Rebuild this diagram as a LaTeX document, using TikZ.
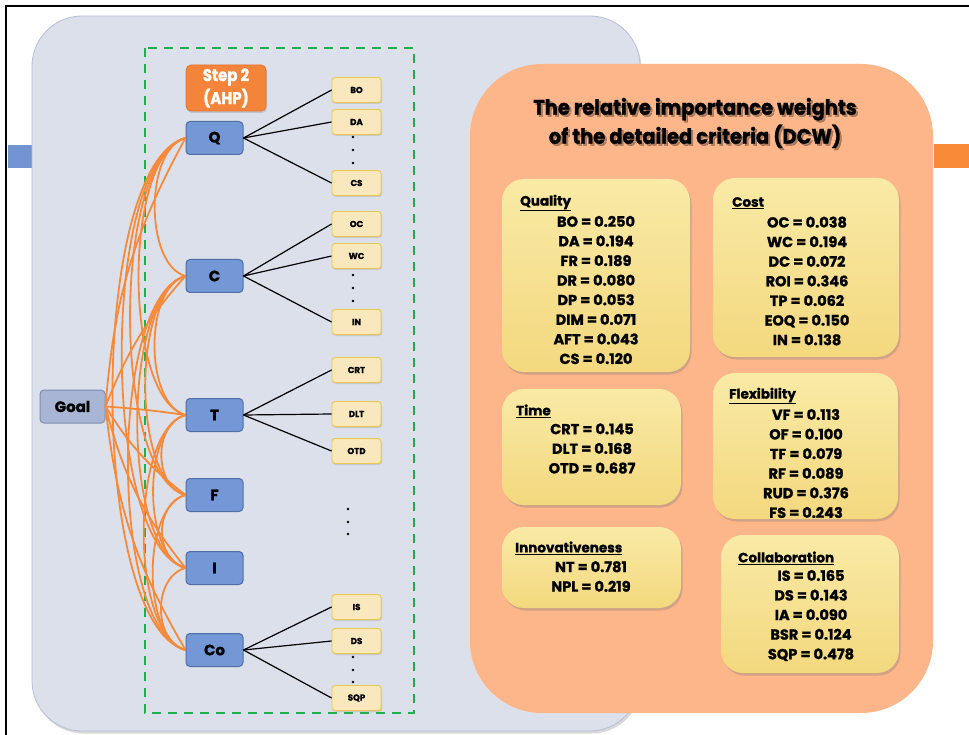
\documentclass[tikz,border=0pt]{standalone}
\usepackage{fontspec}
\setmainfont{Poppins}[BoldFeatures={FakeBold=1.3}]
\newfontfamily\narrowfont{Poppins}[FakeStretch=0.88, BoldFeatures={FakeBold=1.3}]
\newfontfamily\titlefont{Poppins}[FakeStretch=0.925, BoldFeatures={FakeBold=1.3}]
\usetikzlibrary{shadows}

\definecolor{panelfill}{HTML}{DCE0EA}
\definecolor{paneledge}{HTML}{B5C0D8}
\definecolor{critfill}{HTML}{7497D6}
\definecolor{critedge}{HTML}{4F6EA5}
\definecolor{goalfill}{HTML}{A8B5D4}
\definecolor{goaledge}{HTML}{7E8CAE}
\definecolor{subfill}{HTML}{F9E7BE}
\definecolor{subedge}{HTML}{EDC74A}
\definecolor{linkorange}{HTML}{F78A3A}
\definecolor{stepfill}{HTML}{F5843B}
\definecolor{stepedge}{HTML}{E2742F}
\definecolor{peach}{HTML}{FDB58A}
\definecolor{boxtop}{HTML}{F9EAA6}
\definecolor{boxbot}{HTML}{F3D87E}
\definecolor{frameblue}{HTML}{7294D2}
\definecolor{frameorange}{HTML}{F98A38}
\definecolor{dashgreen}{HTML}{1DB14B}

\tikzset{
  crit/.style={draw=critedge, fill=critfill, line width=1pt, rounded corners=4pt,
    minimum width=57pt, minimum height=33pt, inner sep=0pt,
    font=\fontsize{15}{17}\selectfont\bfseries},
  goalbox/.style={crit, draw=goaledge, fill=goalfill, minimum width=65pt},
  leaf/.style={draw=subedge, fill=subfill, line width=0.9pt, rounded corners=3pt,
    minimum width=49pt, minimum height=25pt, inner sep=0pt,
    font=\fontsize{8.6}{10}\selectfont\bfseries,
    drop shadow={shadow xshift=1pt, shadow yshift=-1.5pt, opacity=0.25}},
  stepbox/.style={draw=stepedge, fill=stepfill, line width=0.8pt, rounded corners=5pt,
    minimum width=80pt, minimum height=46pt, inner sep=0pt, text=white, align=center,
    font=\narrowfont\fontsize{17}{23}\selectfont\bfseries,
    drop shadow={shadow xshift=1pt, shadow yshift=-2pt, opacity=0.3}},
  link/.style={draw=linkorange, line width=1.8pt},
  branch/.style={draw=black, line width=1.2pt},
  wbox/.style={rounded corners=22pt, top color=boxtop, bottom color=boxbot,
    inner sep=0pt,
    drop shadow={shadow xshift=1.5pt, shadow yshift=-2.5pt, opacity=0.35}},
  whead/.style={anchor=west, inner sep=0pt, font=\fontsize{13.5}{15}\selectfont\bfseries},
  wvals/.style={align=center, inner sep=0pt, font=\fontsize{14.5}{19.6}\selectfont\bfseries},
  titletext/.style={align=center, inner sep=0pt, font=\titlefont\fontsize{21}{29}\selectfont\bfseries},
}

\begin{document}
\begin{tikzpicture}[x=1pt, y=-1pt]
\useasboundingbox (0,0) rectangle (969,735);

% page frame and side bars
\fill[frameblue] (8,145) rectangle (32,168);
\fill[frameorange] (934,144) rectangle (969,168);
\draw[line width=2pt] (969,6) -- (6,6) -- (6,735);

% grey panel holding the hierarchy
\draw[paneledge, fill=panelfill, line width=0.8pt, rounded corners=50pt,
  drop shadow={shadow xshift=1.5pt, shadow yshift=-2.5pt, opacity=0.3}]
  (32,16) rectangle (640,731);

% dashed frame around the AHP step
\draw[dashgreen, line width=2.5pt, dash pattern=on 9pt off 7pt] (145,48) rectangle (414,713);

% peach panel holding the weights
\fill[peach, rounded corners=72pt] (470,64) rectangle (933,713);

% hierarchy nodes
\node[stepbox] (step) at (226,88) {Step 2\\(AHP)};
\node[goalbox] (goal) at (72.5,406.5) {Goal};
\node[crit] (Q)  at (214.5,138) {Q};
\node[crit] (C)  at (214.5,276) {C};
\node[crit] (T)  at (214.5,415) {T};
\node[crit] (F)  at (214.5,495) {F};
\node[crit] (I)  at (214.5,568) {I};
\node[crit] (Co) at (214.5,650) {Co};

% goal to each criterion
\draw[link] (goal.east) to[bend left=12] (Q.west);
\draw[link] (goal.east) to[bend left=10] (C.west);
\draw[link] (goal.east) to[bend left=2] (T.west);
\draw[link] (goal.east) to[bend right=10] (F.west);
\draw[link] (goal.east) to[bend right=12] (I.west);
\draw[link] (goal.east) to[bend right=12] (Co.west);

% pairwise comparisons between criteria
\foreach \a/\b/\l in {Q/C/0.79, Q/T/0.6, Q/F/0.55, Q/I/0.525, Q/Co/0.505,
                      C/T/0.79, C/F/0.65, C/I/0.585, C/Co/0.545,
                      T/F/1.07, T/I/0.75, T/Co/0.63,
                      F/I/1.14, F/Co/0.75, I/Co/1.06}
  \draw[link] (\a.west) to[out=195, in=165, looseness=\l] (\b.west);

% detailed criteria
\node[leaf] (BO)  at (356.5,90)  {BO};
\node[leaf] (DA)  at (356.5,122) {DA};
\node[leaf] (CS)  at (356.5,183) {CS};
\node[leaf] (OC)  at (356.5,224) {OC};
\node[leaf] (WC)  at (356.5,256) {WC};
\node[leaf] (IN)  at (356.5,322) {IN};
\node[leaf] (CRT) at (356.5,370) {CRT};
\node[leaf] (DLT) at (356.5,414) {DLT};
\node[leaf] (OTD) at (356.5,451) {OTD};
\node[leaf] (IS)  at (356.5,607) {IS};
\node[leaf] (DS)  at (356.5,641) {DS};
\node[leaf] (SQP) at (356.5,698) {SQP};

\foreach \s/\t in {Q/BO, Q/DA, Q/CS, C/OC, C/WC, C/IN, T/CRT, T/DLT, T/OTD, Co/IS, Co/DS, Co/SQP}
  \draw[branch] (\s.east) -- (\t.west);

% ellipsis dots
\foreach \x/\y in {353/137, 353/150, 353/163, 353/275, 353/288, 353/301,
                   353/657, 353/670, 353/682, 348/509, 348/522, 348/534}
  \fill (\x,\y) circle (1.3pt);

% title with soft shadow
\node[titletext, text=black, opacity=0.3] at (697,125) {The relative importance weights\\of the detailed criteria (DCW)};
\node[titletext] (title) at (695,123) {The relative importance weights\\of the detailed criteria (DCW)};

% weight boxes
\node[wbox, minimum width=188pt, minimum height=193pt] (qbox) at (596,275.5) {};
\node[wbox, minimum width=186pt, minimum height=179pt] (cbox) at (806,267.5) {};
\node[wbox, minimum width=179pt, minimum height=116pt] (tbox) at (591.5,447) {};
\node[wbox, minimum width=185pt, minimum height=146pt] (fbox) at (805.5,446) {};
\node[wbox, minimum width=179pt, minimum height=81pt]  (ibox) at (591.5,567.5) {};
\node[wbox, minimum width=178pt, minimum height=138pt] (cobox) at (810,604) {};

\node[whead] (qhead) at (520,203) {\underline{Quality}};
\node[wvals] (qvals) at (596,290) {BO = 0.250\\DA = 0.194\\FR = 0.189\\DR = 0.080\\DP = 0.053\\DIM = 0.071\\AFT = 0.043\\CS = 0.120};

\node[whead] (chead) at (732,203) {\underline{Cost}};
\node[wvals] (cvals) at (807,281) {OC = 0.038\\WC = 0.194\\DC = 0.072\\ROI = 0.346\\TP = 0.062\\EOQ = 0.150\\IN = 0.138};

\node[whead] (thead) at (516,411) {\underline{Time}};
\node[wvals] (tvals) at (592,448.5) {CRT = 0.145\\DLT = 0.168\\OTD = 0.687};

\node[whead] (fhead) at (729,396) {\underline{Flexibility}};
\node[wvals] (fvals) at (806,463.5) {VF = 0.113\\OF = 0.100\\TF = 0.079\\RF = 0.089\\RUD = 0.376\\FS = 0.243};

\node[whead] (ihead) at (515,548) {\underline{Innovativeness}};
\node[wvals] (ivals) at (591,576.5) {NT = 0.781\\NPL = 0.219};

\node[whead] (cohead) at (738,558) {\underline{Collaboration}};
\node[wvals] (covals) at (811,615.5) {IS = 0.165\\DS = 0.143\\IA = 0.090\\BSR = 0.124\\SQP = 0.478};
\end{tikzpicture}
\end{document}
